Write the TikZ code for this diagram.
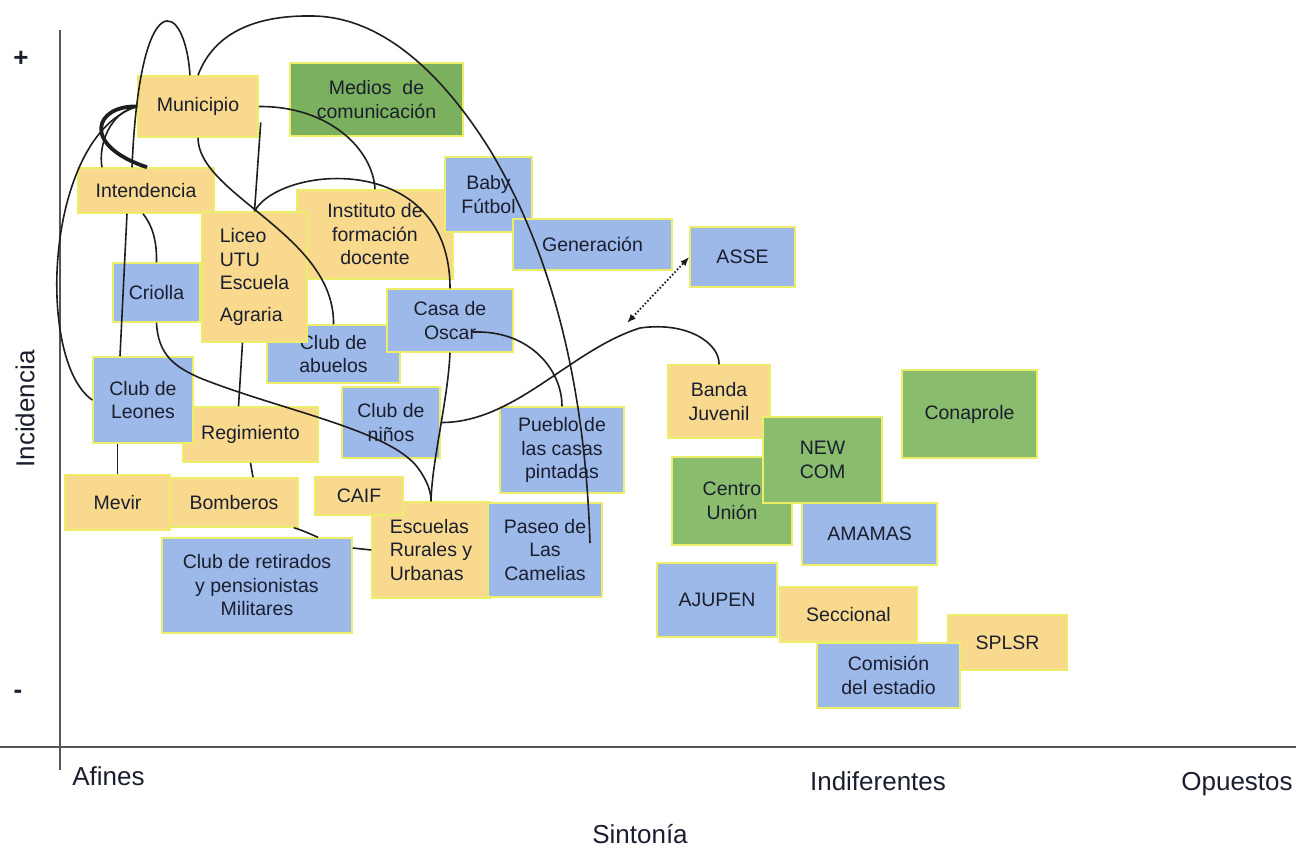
\documentclass[tikz,border=0pt]{standalone}
\usepackage{fontspec}
\setmainfont{Liberation Sans}
\usetikzlibrary{arrows.meta}
\definecolor{yfill}{HTML}{F9D98E}
\definecolor{bfill}{HTML}{9DB9E9}
\definecolor{gfill}{HTML}{89BC6C}
\definecolor{gdark}{HTML}{7BB15E}
\definecolor{bord}{HTML}{ECEE6A}
\definecolor{txt}{HTML}{1A1E2E}
\definecolor{lk}{HTML}{1E1E1E}
\definecolor{ax}{HTML}{555555}
\begin{document}
\begin{tikzpicture}[x=1pt,y=-1pt,
  box/.style={draw=bord, line width=1.5pt, inner sep=0pt, align=center, text=txt,
              font=\fontsize{19.5}{23.5}\selectfont},
  sz/.style 2 args={minimum width=#1pt, minimum height=#2pt},
  yb/.style={box, fill=yfill}, bb/.style={box, fill=bfill}, gb/.style={box, fill=gfill},
  conn/.style={line width=1.6pt, draw=lk},
  axisline/.style={line width=2pt, draw=ax},
  lab/.style={font=\fontsize{26}{30}\selectfont, text=txt, inner sep=0pt}]
\useasboundingbox (0,0) rectangle (1296,847);
% axes
\coordinate (ytop) at (60,30); \coordinate (ybot) at (60,770);
\coordinate (xl) at (0,747); \coordinate (xr) at (1296,747);
\draw[axisline] (ytop) -- (ybot);
\draw[axisline] (xl) -- (xr);
\node[lab, font=\fontsize{26}{30}\selectfont\bfseries] (plus) at (21,59) {+};
\node[lab, font=\fontsize{26}{30}\selectfont\bfseries] (minus) at (18,694) {-};
\node[lab, rotate=90] (inc) at (25,409) {Incidencia};
\node[lab, anchor=base] (afi) at (108.5,785) {Afines};
\node[lab, anchor=base] (ind) at (878,790) {Indiferentes};
\node[lab, anchor=base] (opu) at (1237,790) {Opuestos};
\node[lab, anchor=base] (sin) at (640,843) {Sintonía};
% boxes
\node[yb, sz={156}{89}] (inst) at (375,234.5) {Instituto de\\formación\\docente};
\node[gb, fill=gdark, sz={173}{73}] (medios) at (376.5,99.5) {Medios~ de\\comunicación};
\node[yb, sz={120}{61}] (muni) at (198,106.5) {Municipio};
\node[yb, sz={136}{45}] (inten) at (146,190.5) {Intendencia};
\node[bb, sz={87}{75}] (baby) at (488.5,194.5) {Baby\\Fútbol};
\node[bb, sz={159}{51}] (gen) at (592.5,244.5) {Generación};
\node[bb, sz={105}{60}] (asse) at (742.5,257) {ASSE};
\node[bb, sz={87}{59}] (criolla) at (156.5,292.5) {Criolla};
\node[bb, sz={133}{58}] (abuelos) at (333.5,354) {Club de\\abuelos};
\node[bb, sz={126}{63}] (oscar) at (450,320.5) {Casa de\\Oscar};
\node[yb, sz={105}{130}, align=left] (liceo) at (254.5,277) {Liceo\\UTU\\Escuela\\[8pt]Agraria};
\node[yb, sz={135}{55}] (regim) at (250.5,434.5) {Regimiento};
\node[bb, sz={100}{86}] (leones) at (143,400) {Club de\\Leones};
\node[bb, sz={98}{71}] (ninos) at (391,422.5) {Club de\\niños};
\node[bb, sz={124}{86}] (pueblo) at (562,450) {Pueblo de\\las casas\\pintadas};
\node[yb, sz={105}{55}] (mevir) at (117.5,502.5) {Mevir};
\node[yb, sz={128}{49}] (bomb) at (234,502.5) {Bomberos};
\node[yb, sz={118}{96}, align=left] (escuelas) at (431,550) {Escuelas\\Rurales y\\Urbanas};
\node[yb, sz={88}{38}] (caif) at (359,496) {CAIF};
\node[bb, sz={114}{94}] (paseo) at (545,550) {Paseo de\\Las\\Camelias};
\node[bb, sz={190}{95}] (retir) at (257,585.5) {Club de retirados\\y pensionistas\\Militares};
\node[yb, sz={102}{73}] (banda) at (719,401.5) {Banda\\Juvenil};
\node[gb, sz={120}{88}] (centro) at (732,501) {Centro\\Unión};
\node[gb, sz={119}{86}] (newcom) at (822.5,460) {NEW\\COM};
\node[gb, sz={135}{88}] (conap) at (969.5,414) {Conaprole};
\node[bb, sz={135}{62}] (amamas) at (869.5,534) {AMAMAS};
\node[bb, sz={120}{74}] (ajupen) at (717,600) {AJUPEN};
\node[yb, sz={119}{55}] (splsr) at (1007.5,642.5) {SPLSR};
\node[yb, sz={137}{55}] (secc) at (848.5,614.5) {Seccional};
\node[bb, sz={143}{65}] (comision) at (888.5,675.5) {Comisión\\del estadio};
% connectors
\draw[conn] ([xshift=-14pt]inten.north) .. controls (140,-20) and (185,0) .. ([xshift=-8pt]muni.north);
\draw[conn, line width=3.8pt] (muni.west) .. controls (95,105) and (80,145) .. ([xshift=1pt]inten.north);
\draw[conn] (muni.west) .. controls (45,135) and (35,360) .. (leones.west);
\draw[conn] ([xshift=-44pt]inten.north) .. controls (98,145) and (110,112) .. (muni.west);
\draw[conn] ([xshift=-19pt]inten.south) -- ([xshift=-23pt]leones.north);
\draw[conn] ([xshift=-3pt]inten.south) .. controls (152,225) and (157,240) .. (criolla.north);
\draw[conn] (criolla.south) .. controls (158,355) and (175,367) .. (200,378)
   .. controls (280,410) and (390,430) .. (418,468)
   .. controls (428,482) and (431,492) .. (escuelas.north);
\draw[conn] (mevir.north |- leones.south) -- (mevir.north);
\draw[conn] (muni.south) .. controls (198,195) and (335,235) .. (abuelos.north);
\draw[conn] (muni.east) .. controls (330,106) and (373,150) .. (inst.north);
\draw[conn] ([yshift=-16pt,xshift=2pt]muni.east) -- (liceo.north);
\draw[conn] (liceo.north) .. controls (280,165) and (450,150) .. (oscar.north);
\draw[conn] (oscar.south) .. controls (448,400) and (432,460) .. (escuelas.north);
\draw[conn] (ninos.east) .. controls (515,423) and (570,350) .. (640,328)
   .. controls (690,321) and (720,345) .. (banda.north);
\draw[conn] ([xshift=23pt,yshift=-11.5pt]oscar.center) .. controls (530,330) and (562,370) .. (pueblo.north);
\draw[conn] (muni.north) .. controls (215,30) and (260,15) .. (313,16)
   .. controls (380,17) and (440,70) .. (490,150)
   .. controls (550,250) and (585,380) .. ([xshift=45pt,yshift=7pt]paseo.center);
\coordinate (kend) at (627,323);
\draw[conn, dotted, line width=1.8pt, {Latex[length=9pt,width=7pt]}-{Latex[length=9pt,width=7pt]}] (kend) -- (asse.west);
\draw[conn] ([xshift=-12pt]liceo.south) -- ([xshift=-12pt]regim.north);
\draw[conn] (regim.south) -- ([xshift=19pt]bomb.north);
\draw[conn] ([xshift=-5pt]bomb.south east) .. controls (302,530) and (310,534) .. ([xshift=61pt]retir.north);
\draw[conn] ([yshift=37.5pt]retir.east) -- (escuelas.west);
\end{tikzpicture}
\end{document}
